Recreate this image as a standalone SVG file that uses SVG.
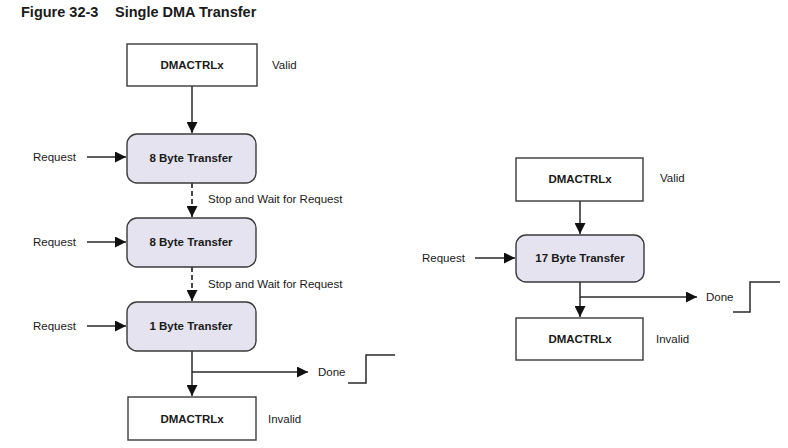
<svg xmlns="http://www.w3.org/2000/svg" width="788" height="448" viewBox="0 0 788 448">
<style>
text{font-family:"Liberation Sans",Arial,sans-serif;fill:#1a1a1a}
.title{font-size:14.5px;font-weight:bold}
.bx{font-size:11.5px;font-weight:bold;text-anchor:middle}
.lb{font-size:11.5px}
.reg{fill:#fff;stroke:#3a3a3a;stroke-width:1.4}
.xfer{fill:#e5e3ef;stroke:#3a3a3a;stroke-width:1.4}
.ln{fill:none;stroke:#2a2a2a;stroke-width:1.5}
.dash{stroke-dasharray:5 3;stroke-width:1.7}
</style>
<defs>
<marker id="ah" markerWidth="12" markerHeight="11" refX="11" refY="5.5" orient="auto" markerUnits="userSpaceOnUse">
<path d="M0,0 L11,5.5 L0,11 Z" fill="#111"/>
</marker>
</defs>
<rect width="788" height="448" fill="#fff"/>
<text class="title" x="21" y="17">Figure 32-3</text>
<text class="title" x="115" y="17">Single DMA Transfer</text>

<g id="connectors">
<path class="ln" d="M192,86 V133" marker-end="url(#ah)"/>
<path class="ln" d="M87,157 H126" marker-end="url(#ah)"/>
<path class="ln dash" d="M192,183 V217" marker-end="url(#ah)"/>
<path class="ln" d="M87,242 H126" marker-end="url(#ah)"/>
<path class="ln dash" d="M192,267 V301" marker-end="url(#ah)"/>
<path class="ln" d="M87,326 H126" marker-end="url(#ah)"/>
<path class="ln" d="M192,351 V396" marker-end="url(#ah)"/>
<path class="ln" d="M192,372 H308" marker-end="url(#ah)"/>
<path class="ln" d="M348,383 H366 V355 H395"/>

<path class="ln" d="M580,201 V234" marker-end="url(#ah)"/>
<path class="ln" d="M475,258 H515" marker-end="url(#ah)"/>
<path class="ln" d="M580,282 V317" marker-end="url(#ah)"/>
<path class="ln" d="M580,297 H697" marker-end="url(#ah)"/>
<path class="ln" d="M733,312 H750 V282 H780"/>
</g>

<g id="left-dmactrl-valid">
<rect class="reg" x="127" y="44" width="130" height="42"/>
<text class="bx" x="192" y="69">DMACTRLx</text>
<text class="lb" x="272" y="69">Valid</text>
</g>
<g id="left-xfer1">
<rect class="xfer" x="127" y="134" width="129" height="49" rx="10"/>
<text class="bx" x="191" y="162">8 Byte Transfer</text>
<text class="lb" x="33" y="161">Request</text>
</g>
<text class="lb" x="208" y="203">Stop and Wait for Request</text>
<g id="left-xfer2">
<rect class="xfer" x="127" y="218" width="129" height="49" rx="10"/>
<text class="bx" x="191" y="246">8 Byte Transfer</text>
<text class="lb" x="33" y="246">Request</text>
</g>
<text class="lb" x="208" y="288">Stop and Wait for Request</text>
<g id="left-xfer3">
<rect class="xfer" x="127" y="302" width="129" height="49" rx="10"/>
<text class="bx" x="191" y="330">1 Byte Transfer</text>
<text class="lb" x="33" y="330">Request</text>
</g>
<text class="lb" x="318" y="376">Done</text>
<g id="left-dmactrl-invalid">
<rect class="reg" x="128" y="397" width="128" height="43"/>
<text class="bx" x="192" y="423">DMACTRLx</text>
<text class="lb" x="268" y="423">Invalid</text>
</g>

<g id="right-dmactrl-valid">
<rect class="reg" x="516" y="158" width="127" height="43"/>
<text class="bx" x="580" y="183">DMACTRLx</text>
<text class="lb" x="660" y="182">Valid</text>
</g>
<g id="right-xfer">
<rect class="xfer" x="516" y="235" width="128" height="47" rx="10"/>
<text class="bx" x="580" y="262">17 Byte Transfer</text>
<text class="lb" x="422" y="262">Request</text>
</g>
<text class="lb" x="706" y="301">Done</text>
<g id="right-dmactrl-invalid">
<rect class="reg" x="516" y="318" width="127" height="42"/>
<text class="bx" x="580" y="343">DMACTRLx</text>
<text class="lb" x="656" y="343">Invalid</text>
</g>
</svg>
